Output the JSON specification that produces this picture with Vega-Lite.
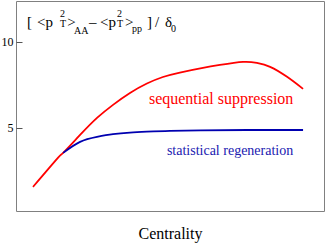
{
  "$schema": "https://vega.github.io/schema/vega-lite/v6.json",
  "width": 308,
  "height": 210,
  "autosize": "none",
  "padding": {"left": 16, "top": 1, "right": 3, "bottom": 33},
  "config": {
    "view": {"stroke": "#808080", "strokeWidth": 1},
    "font": "Liberation Serif"
  },
  "datasets": {
    "curves": [
      {"series": "sequential", "x": 5.5, "y": 1.57},
      {"series": "sequential", "x": 13.6, "y": 3.26},
      {"series": "sequential", "x": 15.3, "y": 3.55},
      {"series": "sequential", "x": 20.8, "y": 4.59},
      {"series": "sequential", "x": 26.3, "y": 5.58},
      {"series": "sequential", "x": 31.5, "y": 6.34},
      {"series": "sequential", "x": 37.0, "y": 7.03},
      {"series": "sequential", "x": 42.5, "y": 7.58},
      {"series": "sequential", "x": 47.7, "y": 7.96},
      {"series": "sequential", "x": 53.2, "y": 8.22},
      {"series": "sequential", "x": 60.7, "y": 8.49},
      {"series": "sequential", "x": 66.2, "y": 8.66},
      {"series": "sequential", "x": 73.7, "y": 8.84},
      {"series": "sequential", "x": 78.2, "y": 8.78},
      {"series": "sequential", "x": 82.5, "y": 8.55},
      {"series": "sequential", "x": 88.0, "y": 7.97},
      {"series": "sequential", "x": 93.2, "y": 7.27},
      {"series": "statistical", "x": 15.3, "y": 3.55},
      {"series": "statistical", "x": 20.8, "y": 4.19},
      {"series": "statistical", "x": 26.3, "y": 4.48},
      {"series": "statistical", "x": 31.5, "y": 4.64},
      {"series": "statistical", "x": 37.0, "y": 4.73},
      {"series": "statistical", "x": 42.5, "y": 4.78},
      {"series": "statistical", "x": 50.0, "y": 4.83},
      {"series": "statistical", "x": 60.0, "y": 4.86},
      {"series": "statistical", "x": 75.0, "y": 4.88},
      {"series": "statistical", "x": 93.2, "y": 4.88}
    ],
    "mainText": [
      {"t": "[", "x": 3.6, "y": 10.87},
      {"t": "<p", "x": 6.8, "y": 10.87},
      {"t": ">", "x": 16.6, "y": 10.87},
      {"t": "–", "x": 23.7, "y": 10.87},
      {"t": "<p", "x": 27.3, "y": 10.87},
      {"t": ">", "x": 35.4, "y": 10.87},
      {"t": "]", "x": 42.5, "y": 10.87},
      {"t": "/", "x": 45.1, "y": 10.87},
      {"t": "δ", "x": 48.4, "y": 10.87}
    ],
    "supText": [
      {"t": "2", "x": 14.3, "y": 11.43},
      {"t": "2", "x": 32.8, "y": 11.43}
    ],
    "subText": [
      {"t": "T", "x": 14.3, "y": 10.86},
      {"t": "AA", "x": 18.8, "y": 10.47},
      {"t": "T", "x": 32.8, "y": 10.86},
      {"t": "pp", "x": 37.7, "y": 10.58},
      {"t": "0", "x": 50.3, "y": 10.6}
    ]
  },
  "layer": [
    {
      "data": {"name": "curves"},
      "mark": {"type": "line", "interpolate": "natural", "strokeWidth": 1.8},
      "encoding": {
        "x": {
          "field": "x", "type": "quantitative",
          "scale": {"domain": [0, 100], "nice": false, "zero": false},
          "axis": {"title": "Centrality", "labels": false, "ticks": false, "domain": false, "grid": false,
                   "titleFont": "Liberation Serif", "titleFontSize": 16, "titleFontWeight": "normal",
                   "titleColor": "black", "titlePadding": 14}
        },
        "y": {
          "field": "y", "type": "quantitative",
          "scale": {"domain": [0.17, 12.38], "nice": false, "zero": false},
          "axis": {"title": null, "values": [5, 10], "grid": false, "domain": false,
                   "tickSize": -6, "tickColor": "#555", "labelFontSize": 12, "labelColor": "black",
                   "labelFont": "Liberation Serif", "labelPadding": 9}
        },
        "color": {
          "field": "series", "type": "nominal",
          "scale": {"domain": ["sequential", "statistical"], "range": ["#ff0000", "#0000b0"]},
          "legend": null
        }
      }
    },
    {
      "data": {"values": [{"t": "sequential suppression", "x": 66.6, "y": 6.42}]},
      "mark": {"type": "text", "align": "center", "baseline": "alphabetic", "fontSize": 16, "color": "#ff0000", "font": "Liberation Serif"},
      "encoding": {
        "x": {"field": "x", "type": "quantitative"},
        "y": {"field": "y", "type": "quantitative"},
        "text": {"field": "t"}
      }
    },
    {
      "data": {"values": [{"t": "statistical regeneration", "x": 69.5, "y": 3.43}]},
      "mark": {"type": "text", "align": "center", "baseline": "alphabetic", "fontSize": 14, "color": "#2020b0", "font": "Liberation Serif"},
      "encoding": {
        "x": {"field": "x", "type": "quantitative"},
        "y": {"field": "y", "type": "quantitative"},
        "text": {"field": "t"}
      }
    },
    {
      "data": {"name": "mainText"},
      "mark": {"type": "text", "align": "left", "baseline": "alphabetic", "fontSize": 15, "color": "black", "font": "Liberation Serif"},
      "encoding": {
        "x": {"field": "x", "type": "quantitative"},
        "y": {"field": "y", "type": "quantitative"},
        "text": {"field": "t"}
      }
    },
    {
      "data": {"name": "supText"},
      "mark": {"type": "text", "align": "left", "baseline": "alphabetic", "fontSize": 10, "color": "black", "font": "Liberation Serif"},
      "encoding": {
        "x": {"field": "x", "type": "quantitative"},
        "y": {"field": "y", "type": "quantitative"},
        "text": {"field": "t"}
      }
    },
    {
      "data": {"name": "subText"},
      "mark": {"type": "text", "align": "left", "baseline": "alphabetic", "fontSize": 10, "color": "black", "font": "Liberation Serif"},
      "encoding": {
        "x": {"field": "x", "type": "quantitative"},
        "y": {"field": "y", "type": "quantitative"},
        "text": {"field": "t"}
      }
    }
  ]
}
